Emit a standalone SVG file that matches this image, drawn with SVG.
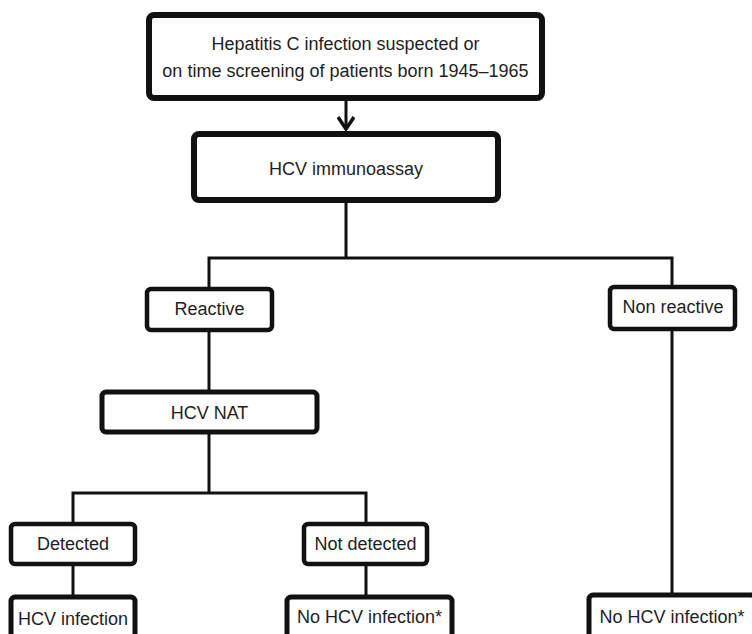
<svg xmlns="http://www.w3.org/2000/svg" width="752" height="634" viewBox="0 0 752 634">
  <style>
    .box { fill: #ffffff; stroke: #111111; }
    .big { stroke-width: 6; }
    .mid { stroke-width: 5; }
    .small { stroke-width: 4.5; }
    .lbl { font-family: "Liberation Sans", Arial, sans-serif; font-size: 18px; fill: #1e1e1e; text-anchor: middle; }
    .wire { fill: none; stroke: #111111; stroke-width: 3; stroke-linejoin: miter; }
  </style>
  <defs>
    <!-- open chevron head, drawn pointing along +x so orient="auto" turns it with the line -->
    <marker id="chev" viewBox="0 0 16 18" refX="14" refY="9" markerWidth="16" markerHeight="18" markerUnits="userSpaceOnUse" orient="auto">
      <path d="M2,1 L14,9 L2,17" fill="none" stroke="#111111" stroke-width="3.5" stroke-linejoin="miter"/>
    </marker>
  </defs>
  <rect width="752" height="634" fill="#ffffff"/>

  <!-- connectors -->
  <g id="connectors">
    <path class="wire" d="M346,101 V129" marker-end="url(#chev)"/>
    <path class="wire" d="M346,202 V258"/>
    <path class="wire" d="M209,288 V258 H672 V286"/>
    <path class="wire" d="M209,331 V391"/>
    <path class="wire" d="M209,434 V493"/>
    <path class="wire" d="M73,523 V493 H366 V523"/>
    <path class="wire" d="M73,565 V597"/>
    <path class="wire" d="M366,565 V596"/>
    <path class="wire" d="M672,330 V595"/>
  </g>

  <!-- nodes -->
  <g id="start">
    <rect class="box big" x="149" y="15" width="393" height="83" rx="5"/>
    <text class="lbl" x="345.5" y="50">Hepatitis C infection suspected or</text>
    <text class="lbl" x="345.5" y="77">on time screening of patients born 1945–1965</text>
  </g>
  <g id="immunoassay">
    <rect class="box big" x="194" y="134" width="304" height="66" rx="5"/>
    <text class="lbl" x="346" y="175">HCV immunoassay</text>
  </g>
  <g id="reactive">
    <rect class="box small" x="147" y="289" width="125" height="41" rx="4"/>
    <text class="lbl" x="209.5" y="315">Reactive</text>
  </g>
  <g id="non-reactive">
    <rect class="box small" x="610" y="287" width="125" height="42" rx="4"/>
    <text class="lbl" x="673" y="313">Non reactive</text>
  </g>
  <g id="nat">
    <rect class="box mid" x="102" y="392" width="215" height="40" rx="4"/>
    <text class="lbl" x="209.5" y="419">HCV NAT</text>
  </g>
  <g id="detected">
    <rect class="box small" x="11" y="524" width="124" height="40" rx="4"/>
    <text class="lbl" x="73" y="550">Detected</text>
  </g>
  <g id="not-detected">
    <rect class="box small" x="304" y="524" width="123" height="40" rx="4"/>
    <text class="lbl" x="365.5" y="550">Not detected</text>
  </g>
  <g id="hcv-infection">
    <rect class="box mid" x="11" y="597" width="124" height="50" rx="4"/>
    <text class="lbl" x="73" y="625">HCV infection</text>
  </g>
  <g id="no-infection-nat">
    <rect class="box mid" x="287" y="597" width="165" height="50" rx="4"/>
    <text class="lbl" x="369.5" y="623">No HCV infection*</text>
  </g>
  <g id="no-infection-assay">
    <rect class="box mid" x="589" y="595" width="166" height="52" rx="4"/>
    <text class="lbl" x="672" y="623">No HCV infection*</text>
  </g>
</svg>
